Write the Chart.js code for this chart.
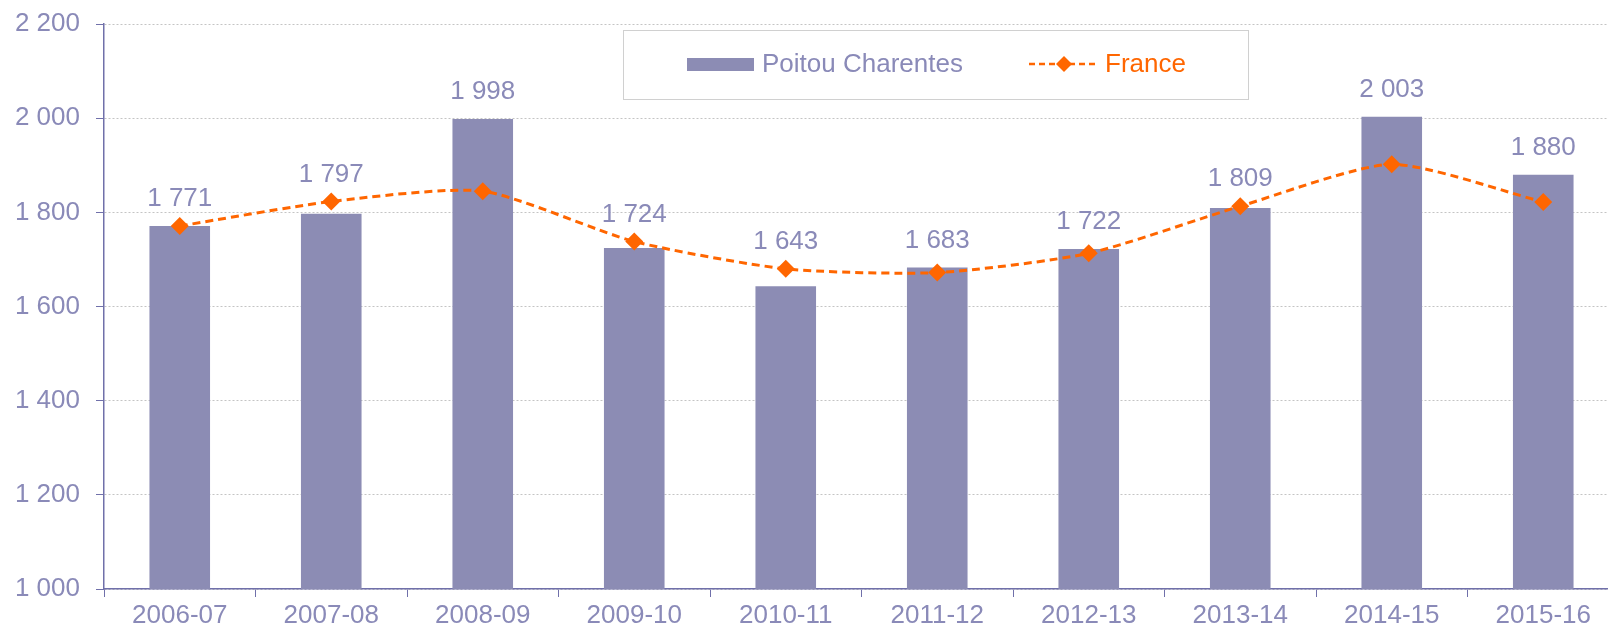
<!DOCTYPE html>
<html>
<head>
<meta charset="utf-8">
<script src="https://cdn.jsdelivr.net/npm/chart.js@4.4.0/dist/chart.umd.min.js"></script>
<style>
  html, body { margin: 0; padding: 0; background: #fff; overflow: hidden; }
  #wrap { width: 1608px; height: 630px; overflow: hidden; }
</style>
</head>
<body>
<div id="wrap"><canvas id="chart" width="1628" height="630"></canvas></div>
<script>
var seasons = ["2006-07", "2007-08", "2008-09", "2009-10", "2010-11", "2011-12", "2012-13", "2013-14", "2014-15", "2015-16"];
var poitou = [1771, 1797, 1998, 1724, 1643, 1683, 1722, 1809, 2003, 1880];
var france = [1771, 1823, 1845, 1738, 1680, 1672, 1713, 1813, 1902, 1822];
var yTicks = [1000, 1200, 1400, 1600, 1800, 2000, 2200];

var txt = '#8A8AB8';
var axisCol = '#7070AA';
var barCol = '#8C8CB4';
var orange = '#FF6600';
var font = 'Liberation Sans, Arial, sans-serif';
var fsize = 26;

function fmt(v) {
  return String(v).replace(/\B(?=(\d{3})+(?!\d))/g, ' ');
}

// value labels above the bars
var barLabels = {
  id: 'barLabels',
  afterDatasetsDraw: function(chart) {
    var ctx = chart.ctx;
    var bars = chart.getDatasetMeta(0).data;
    var pts = chart.getDatasetMeta(1).data;
    ctx.save();
    ctx.font = fsize + 'px ' + font;
    ctx.fillStyle = txt;
    ctx.textAlign = 'center';
    ctx.textBaseline = 'middle';
    bars.forEach(function(b, i) {
      var top = Math.min(b.y, pts[i].y);
      ctx.fillText(fmt(poitou[i]), b.x, top - 27);
    });
    ctx.restore();
  }
};

// boxed legend inside the plot
var boxLegend = {
  id: 'boxLegend',
  afterDraw: function(chart) {
    var ctx = chart.ctx;
    ctx.save();
    ctx.fillStyle = '#fff';
    ctx.fillRect(623, 30, 625, 69);
    ctx.strokeStyle = '#D0D0D0';
    ctx.lineWidth = 1;
    ctx.strokeRect(623.5, 30.5, 625, 69);

    var cy = 64;
    ctx.fillStyle = barCol;
    ctx.fillRect(687, cy - 6, 67, 13);
    ctx.font = fsize + 'px ' + font;
    ctx.textBaseline = 'middle';
    ctx.textAlign = 'left';
    ctx.fillStyle = txt;
    ctx.fillText('Poitou Charentes', 762, cy + 1);

    ctx.strokeStyle = orange;
    ctx.lineWidth = 2.5;
    ctx.setLineDash([6, 4]);
    ctx.beginPath();
    ctx.moveTo(1029, cy);
    ctx.lineTo(1099, cy);
    ctx.stroke();
    ctx.setLineDash([]);
    ctx.fillStyle = orange;
    ctx.beginPath();
    ctx.moveTo(1064, cy - 8);
    ctx.lineTo(1072, cy);
    ctx.lineTo(1064, cy + 8);
    ctx.lineTo(1056, cy);
    ctx.closePath();
    ctx.fill();
    ctx.fillText('France', 1105, cy + 1);
    ctx.restore();
  }
};

new Chart(document.getElementById('chart'), {
  type: 'bar',
  data: {
    labels: seasons,
    datasets: [
      {
        type: 'line',
        label: 'France',
        data: france,
        borderColor: orange,
        backgroundColor: orange,
        borderWidth: 3,
        borderDash: [8, 5],
        tension: 0.22,
        pointStyle: 'rectRot',
        pointRadius: 9,
        pointBorderWidth: 0,
        order: 0
      },
      {
        label: 'Poitou Charentes',
        data: poitou,
        backgroundColor: barCol,
        barPercentage: 0.4,
        categoryPercentage: 1,
        order: 1
      }
    ]
  },
  options: {
    responsive: false,
    animation: false,
    layout: { padding: { top: 24, left: 0, right: 0, bottom: 0 } },
    plugins: {
      legend: { display: false },
      tooltip: { enabled: false }
    },
    scales: {
      x: {
        offset: true,
        afterFit: function(s) { s.height = 41; s.paddingLeft = 0; s.paddingRight = 0; },
        grid: {
          offset: true,
          drawOnChartArea: false,
          tickLength: 8,
          tickColor: axisCol
        },
        border: { color: axisCol, width: 1.5 },
        ticks: {
          color: txt,
          padding: 3,
          maxRotation: 0,
          font: { family: font, size: fsize }
        }
      },
      y: {
        min: 1000,
        max: 2200,
        afterFit: function(s) { s.width = 104; s.paddingTop = 0; s.paddingBottom = 0; },
        afterBuildTicks: function(s) {
          s.ticks = yTicks.map(function(v) { return { value: v }; });
        },
        grid: {
          color: '#C4C4C4',
          tickColor: axisCol,
          tickLength: 8,
          lineWidth: 1
        },
        border: { color: axisCol, width: 1.5, dash: [2, 2] },
        ticks: {
          color: txt,
          padding: 16,
          font: { family: font, size: fsize },
          callback: function(v) { return fmt(v); }
        }
      }
    }
  },
  plugins: [barLabels, boxLegend]
});
</script>
</body>
</html>
